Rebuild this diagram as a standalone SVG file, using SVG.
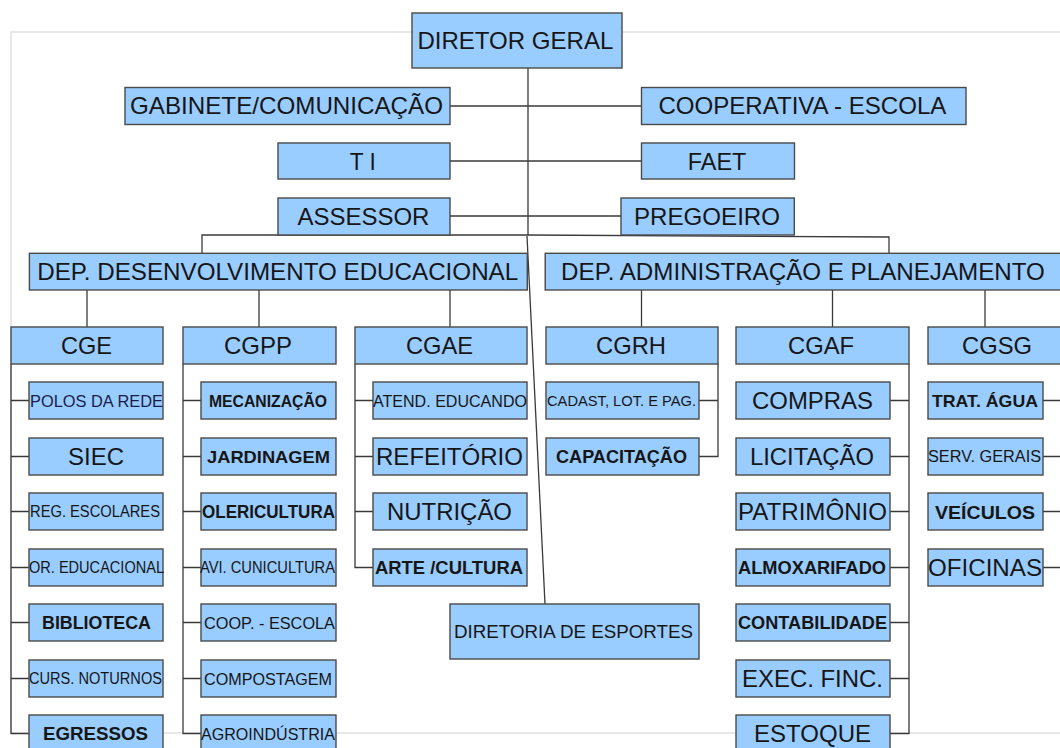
<svg xmlns="http://www.w3.org/2000/svg" width="1060" height="748" viewBox="0 0 1060 748">
<style>
.bx{fill:#99ccff;stroke:#4a4a4a;stroke-width:1.4}
.t{font-family:"Liberation Sans",Arial,sans-serif;fill:#161616}
.b{font-weight:bold}
.ln{stroke:#3a3a3a;stroke-width:1.3;fill:none}
.fr{fill:none;stroke:#dcdcdc;stroke-width:1.3}
</style>
<rect width="1060" height="748" fill="#ffffff"/>
<rect class="fr" x="11" y="32" width="1100" height="701"/>
<g id="connectors" class="ln">
<path d="M528 68V235"/>
<path d="M450 106H641.5M450 161H641.5M450 216H621"/>
<path d="M202 253V235H528L889 237V253"/>
<path d="M527 236L545 604"/>
<path d="M87 290V327M259 290V327M450 290V327"/>
<path d="M641.5 290V327M832.5 290V327M985 290V327"/>
<path d="M11 364V733.5H29M11 400.5H29M11 456.5H29M11 511.5H29M11 567.5H29M11 622.5H29M11 678.5H29"/>
<path d="M183 364V733.5H201M183 400.5H201M183 456.5H201M183 511.5H201M183 567.5H201M183 622.5H201M183 678.5H201"/>
<path d="M355 364V567.5H373M355 400.5H373M355 456.5H373M355 511.5H373"/>
<path d="M718 364V456.5H699M699 400.5H718"/>
<path d="M909 364V733.5H890M890 400.5H909M890 456.5H909M890 511.5H909M890 567.5H909M890 622.5H909M890 678.5H909"/>
<path d="M1043 400.5H1062M1043 456.5H1062M1043 511.5H1062M1043 567.5H1062"/>
</g>
<g id="n-diretor"><rect class="bx" x="412" y="13" width="210" height="55"/><text class="t" x="417.4" y="49" font-size="24" textLength="196" lengthAdjust="spacingAndGlyphs">DIRETOR GERAL</text></g>
<g id="n-gabinete"><rect class="bx" x="125" y="87.5" width="325" height="37"/><text class="t" x="130" y="114" font-size="24" textLength="313" lengthAdjust="spacingAndGlyphs">GABINETE/COMUNICAÇÃO</text></g>
<g id="n-cooperativa"><rect class="bx" x="641.5" y="87.5" width="324.5" height="37"/><text class="t" x="658.4" y="114" font-size="24" textLength="288" lengthAdjust="spacingAndGlyphs">COOPERATIVA - ESCOLA</text></g>
<g id="n-ti"><rect class="bx" x="278" y="143" width="172" height="36"/><text class="t" x="349.8" y="169.5" font-size="24" textLength="26" lengthAdjust="spacingAndGlyphs">T I</text></g>
<g id="n-faet"><rect class="bx" x="641.5" y="143" width="153" height="36"/><text class="t" x="687.8" y="169.5" font-size="24" textLength="58.5" lengthAdjust="spacingAndGlyphs">FAET</text></g>
<g id="n-assessor"><rect class="bx" x="278" y="198" width="172" height="37"/><text class="t" x="297.4" y="224.8" font-size="24" textLength="132" lengthAdjust="spacingAndGlyphs">ASSESSOR</text></g>
<g id="n-pregoeiro"><rect class="bx" x="621" y="198" width="173.3" height="37"/><text class="t" x="634" y="224.8" font-size="24" textLength="146" lengthAdjust="spacingAndGlyphs">PREGOEIRO</text></g>
<g id="n-dep-desenv"><rect class="bx" x="29.4" y="253.3" width="497.9" height="36.7"/><text class="t" x="37.2" y="280" font-size="24" textLength="481" lengthAdjust="spacingAndGlyphs">DEP. DESENVOLVIMENTO EDUCACIONAL</text></g>
<g id="n-dep-adm"><rect class="bx" x="545.2" y="253.3" width="520" height="36.7"/><text class="t" x="561.1" y="280" font-size="24" textLength="483.7" lengthAdjust="spacingAndGlyphs">DEP. ADMINISTRAÇÃO E PLANEJAMENTO</text></g>
<g id="n-cge"><rect class="bx" x="11" y="327" width="152" height="37"/><text class="t" x="61" y="354" font-size="24" textLength="51" lengthAdjust="spacingAndGlyphs">CGE</text></g>
<g id="n-cgpp"><rect class="bx" x="183" y="327" width="153" height="37"/><text class="t" x="224" y="354" font-size="24" textLength="68" lengthAdjust="spacingAndGlyphs">CGPP</text></g>
<g id="n-cgae"><rect class="bx" x="355" y="327" width="172" height="37"/><text class="t" x="406" y="354" font-size="24" textLength="67" lengthAdjust="spacingAndGlyphs">CGAE</text></g>
<g id="n-cgrh"><rect class="bx" x="546" y="327" width="172" height="37"/><text class="t" x="596" y="354" font-size="24" textLength="70" lengthAdjust="spacingAndGlyphs">CGRH</text></g>
<g id="n-cgaf"><rect class="bx" x="736" y="327" width="173" height="37"/><text class="t" x="788" y="354" font-size="24" textLength="66" lengthAdjust="spacingAndGlyphs">CGAF</text></g>
<g id="n-cgsg"><rect class="bx" x="928" y="327" width="172" height="37"/><text class="t" x="962" y="354" font-size="24" textLength="70" lengthAdjust="spacingAndGlyphs">CGSG</text></g>
<g id="n-polos"><rect class="bx" x="29" y="382" width="134" height="37"/><text class="t" x="30" y="406.6" font-size="17" textLength="133" lengthAdjust="spacingAndGlyphs" style="fill:#1c1c4a">POLOS DA REDE</text></g>
<g id="n-siec"><rect class="bx" x="29" y="438" width="134" height="37"/><text class="t" x="68" y="465" font-size="24" textLength="56" lengthAdjust="spacingAndGlyphs">SIEC</text></g>
<g id="n-reg"><rect class="bx" x="29" y="493" width="134" height="37"/><text class="t" x="30" y="517.2" font-size="16" textLength="130" lengthAdjust="spacingAndGlyphs">REG. ESCOLARES</text></g>
<g id="n-or"><rect class="bx" x="29" y="549" width="134" height="37"/><text class="t" x="29" y="573.2" font-size="16" textLength="135" lengthAdjust="spacingAndGlyphs">OR. EDUCACIONAL</text></g>
<g id="n-biblioteca"><rect class="bx" x="29" y="604" width="134" height="37"/><text class="t b" x="42" y="628.9" font-size="18" textLength="109" lengthAdjust="spacingAndGlyphs">BIBLIOTECA</text></g>
<g id="n-curs"><rect class="bx" x="29" y="660" width="134" height="37"/><text class="t" x="29" y="684.2" font-size="16" textLength="133" lengthAdjust="spacingAndGlyphs">CURS. NOTURNOS</text></g>
<g id="n-egressos"><rect class="bx" x="29" y="715" width="134" height="37"/><text class="t b" x="43" y="740.3" font-size="19" textLength="105" lengthAdjust="spacingAndGlyphs">EGRESSOS</text></g>
<g id="n-mecanizacao"><rect class="bx" x="201" y="382" width="135" height="37"/><text class="t b" x="209" y="406.6" font-size="17" textLength="118" lengthAdjust="spacingAndGlyphs">MECANIZAÇÃO</text></g>
<g id="n-jardinagem"><rect class="bx" x="201" y="438" width="135" height="37"/><text class="t b" x="207" y="462.6" font-size="17" textLength="123" lengthAdjust="spacingAndGlyphs">JARDINAGEM</text></g>
<g id="n-olericultura"><rect class="bx" x="201" y="493" width="135" height="37"/><text class="t b" x="202" y="517.9" font-size="18" textLength="133" lengthAdjust="spacingAndGlyphs">OLERICULTURA</text></g>
<g id="n-avi"><rect class="bx" x="201" y="549" width="135" height="37"/><text class="t" x="200" y="573.2" font-size="16" textLength="135" lengthAdjust="spacingAndGlyphs">AVI. CUNICULTURA</text></g>
<g id="n-coop"><rect class="bx" x="201" y="604" width="135" height="37"/><text class="t" x="204" y="628.6" font-size="17" textLength="131" lengthAdjust="spacingAndGlyphs">COOP. - ESCOLA</text></g>
<g id="n-compostagem"><rect class="bx" x="201" y="660" width="135" height="37"/><text class="t" x="204" y="684.6" font-size="17" textLength="128" lengthAdjust="spacingAndGlyphs">COMPOSTAGEM</text></g>
<g id="n-agroindustria"><rect class="bx" x="201" y="715" width="135" height="37"/><text class="t" x="201" y="739.6" font-size="17" textLength="134" lengthAdjust="spacingAndGlyphs">AGROINDÚSTRIA</text></g>
<g id="n-atend"><rect class="bx" x="373" y="382" width="154" height="37"/><text class="t" x="373" y="406.6" font-size="17" textLength="154" lengthAdjust="spacingAndGlyphs">ATEND. EDUCANDO</text></g>
<g id="n-refeitorio"><rect class="bx" x="373" y="438" width="154" height="37"/><text class="t" x="376" y="465" font-size="24" textLength="147" lengthAdjust="spacingAndGlyphs">REFEITÓRIO</text></g>
<g id="n-nutricao"><rect class="bx" x="373" y="493" width="154" height="37"/><text class="t" x="387" y="520" font-size="24" textLength="125" lengthAdjust="spacingAndGlyphs">NUTRIÇÃO</text></g>
<g id="n-arte"><rect class="bx" x="373" y="549" width="154" height="37"/><text class="t b" x="375" y="573.9" font-size="18" textLength="148" lengthAdjust="spacingAndGlyphs">ARTE /CULTURA</text></g>
<g id="n-cadast"><rect class="bx" x="546" y="382" width="153" height="37"/><text class="t" x="547" y="406" font-size="15" textLength="149" lengthAdjust="spacingAndGlyphs">CADAST, LOT. E PAG.</text></g>
<g id="n-capacitacao"><rect class="bx" x="546" y="438" width="153" height="37"/><text class="t b" x="556" y="462.9" font-size="18" textLength="131" lengthAdjust="spacingAndGlyphs">CAPACITAÇÃO</text></g>
<g id="n-esportes"><rect class="bx" x="450" y="604" width="249" height="55"/><text class="t" x="454" y="637.9" font-size="18" textLength="239" lengthAdjust="spacingAndGlyphs">DIRETORIA DE ESPORTES</text></g>
<g id="n-compras"><rect class="bx" x="736" y="382" width="154" height="37"/><text class="t" x="752" y="409.1" font-size="24" textLength="121" lengthAdjust="spacingAndGlyphs">COMPRAS</text></g>
<g id="n-licitacao"><rect class="bx" x="736" y="438" width="154" height="37"/><text class="t" x="750" y="465" font-size="24" textLength="124" lengthAdjust="spacingAndGlyphs">LICITAÇÃO</text></g>
<g id="n-patrimonio"><rect class="bx" x="736" y="493" width="154" height="37"/><text class="t" x="738" y="520" font-size="24" textLength="149" lengthAdjust="spacingAndGlyphs">PATRIMÔNIO</text></g>
<g id="n-almoxarifado"><rect class="bx" x="736" y="549" width="154" height="37"/><text class="t b" x="738" y="573.9" font-size="18" textLength="148" lengthAdjust="spacingAndGlyphs">ALMOXARIFADO</text></g>
<g id="n-contabilidade"><rect class="bx" x="736" y="604" width="154" height="37"/><text class="t b" x="738" y="628.9" font-size="18" textLength="149" lengthAdjust="spacingAndGlyphs">CONTABILIDADE</text></g>
<g id="n-exec"><rect class="bx" x="736" y="660" width="154" height="37"/><text class="t" x="742" y="687.1" font-size="24" textLength="141" lengthAdjust="spacingAndGlyphs">EXEC. FINC.</text></g>
<g id="n-estoque"><rect class="bx" x="736" y="715" width="154" height="37"/><text class="t" x="754" y="742.1" font-size="24" textLength="117" lengthAdjust="spacingAndGlyphs">ESTOQUE</text></g>
<g id="n-trat"><rect class="bx" x="928" y="382" width="115" height="37"/><text class="t b" x="932" y="406.6" font-size="17" textLength="106" lengthAdjust="spacingAndGlyphs">TRAT. ÁGUA</text></g>
<g id="n-serv"><rect class="bx" x="928" y="438" width="115" height="37"/><text class="t" x="928" y="462.2" font-size="16" textLength="113" lengthAdjust="spacingAndGlyphs">SERV. GERAIS</text></g>
<g id="n-veiculos"><rect class="bx" x="928" y="493" width="115" height="37"/><text class="t b" x="935" y="518.6" font-size="19" textLength="100" lengthAdjust="spacingAndGlyphs">VEÍCULOS</text></g>
<g id="n-oficinas"><rect class="bx" x="928" y="549" width="115" height="37"/><text class="t" x="928" y="576.1" font-size="24" textLength="114" lengthAdjust="spacingAndGlyphs">OFICINAS</text></g>
</svg>
